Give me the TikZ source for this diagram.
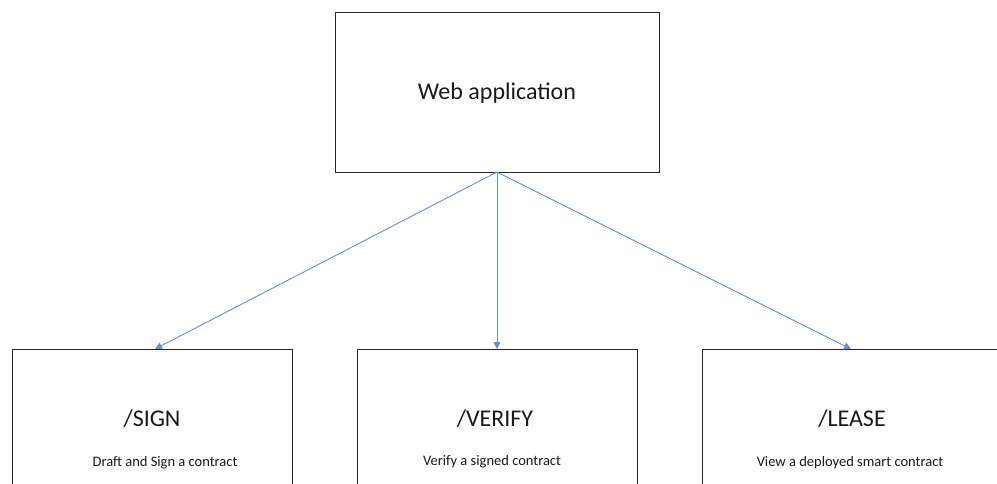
\documentclass[tikz,border=0pt]{standalone}
\usepackage{fontspec}
\setmainfont{Carlito}
\usetikzlibrary{arrows.meta}
\definecolor{arrowblue}{HTML}{4472C4}
\begin{document}
\begin{tikzpicture}[x=1pt,y=-1pt,
  boxstyle/.style={draw=black!85,line width=0.9pt},
  conn/.style={draw=arrowblue!80,line width=0.9pt,-{Triangle[length=7pt,width=7pt]}},
  big/.style={font=\fontsize{24}{28}\selectfont,text=black!90},
  small/.style={font=\fontsize{14.5}{17}\selectfont,text=black!90}]
\useasboundingbox (0,0) rectangle (997,483);
\clip (0,0) rectangle (997,483);
\draw[boxstyle] (335,12) rectangle (659,172);
\node[big] (web) at (497,93) {Web application};
\coordinate (src) at (497,172);
\draw[boxstyle] (12,349) rectangle (292,500);
\draw[boxstyle] (357,349) rectangle (637,500);
\draw[boxstyle] (702,349) rectangle (1010,500);
\coordinate (t1) at (155,349);
\coordinate (t2) at (497,349);
\coordinate (t3) at (851,349);
\node[big] (sign) at (152,419) {/SIGN};
\node[small] (signd) at (165,463) {Draft and Sign a contract};
\node[big] (verify) at (495,419) {/VERIFY};
\node[small] (verifyd) at (492,462) {Verify a signed contract};
\node[big] (lease) at (852,419) {/LEASE};
\node[small] (leased) at (850,463) {View a deployed smart contract};
\draw[conn] (src) -- (t1);
\draw[conn] (src) -- (t2);
\draw[conn] (src) -- (t3);
\end{tikzpicture}
\end{document}
